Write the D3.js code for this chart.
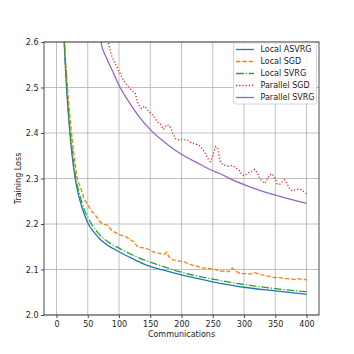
<!DOCTYPE html>
<html>
<head>
<meta charset="utf-8">
<script src="https://cdn.jsdelivr.net/npm/d3@7"></script>
<style>
html,body{margin:0;padding:0;background:#fff;}
svg{display:block;}
text{font-family:"DejaVu Sans",sans-serif;}
</style>
</head>
<body>
<svg id="chart" width="354" height="354"></svg>
<script>
// ---------- data ----------
const xTicks = [0, 50, 100, 150, 200, 250, 300, 350, 400];
const yTicks = [2.0, 2.1, 2.2, 2.3, 2.4, 2.5, 2.6];

const asvrgX = [11, 12.3, 14, 16, 18.5, 21.4, 25, 29.9, 35, 40, 51, 60, 70, 80, 100, 120, 140, 170, 200, 250, 300, 350, 400];
const asvrgY = [2.65, 2.60, 2.55, 2.50, 2.45, 2.40, 2.35, 2.30, 2.265, 2.24, 2.20, 2.182, 2.166, 2.155, 2.139, 2.125, 2.112, 2.099, 2.088, 2.073, 2.061, 2.053, 2.0455];

const sgdX = [11.5, 12.8, 15, 17.6, 20.5, 24, 28, 33, 39, 44, 50, 56, 62, 70, 76, 82, 88, 94, 100, 106, 112, 118, 124, 130, 136, 142, 148, 154, 160, 166, 172, 176, 180, 186, 192, 198, 204, 210, 216, 222, 228, 234, 240, 246, 252, 258, 264, 270, 276, 281, 286, 292, 298, 304, 310, 316, 322, 328, 334, 340, 346, 352, 358, 364, 370, 376, 382, 388, 394, 400];
const sgdY = [2.65, 2.60, 2.55, 2.50, 2.45, 2.40, 2.35, 2.30, 2.278, 2.255, 2.243, 2.228, 2.22, 2.204, 2.199, 2.197, 2.186, 2.181, 2.177, 2.174, 2.171, 2.165, 2.161, 2.149, 2.148, 2.147, 2.144, 2.139, 2.137, 2.135, 2.133, 2.138, 2.128, 2.121, 2.120, 2.118, 2.117, 2.113, 2.110, 2.108, 2.106, 2.103, 2.103, 2.102, 2.101, 2.098, 2.096, 2.097, 2.095, 2.103, 2.098, 2.092, 2.091, 2.091, 2.090, 2.093, 2.091, 2.088, 2.087, 2.085, 2.083, 2.082, 2.082, 2.080, 2.080, 2.079, 2.078, 2.080, 2.078, 2.078];

const svrgX = [11, 12.5, 14.5, 16.5, 19, 22, 26, 31, 37, 45, 56, 70, 80, 100, 120, 140, 170, 200, 250, 300, 350, 400];
const svrgY = [2.65, 2.60, 2.55, 2.50, 2.45, 2.40, 2.35, 2.30, 2.265, 2.23, 2.20, 2.175, 2.163, 2.147, 2.133, 2.121, 2.107, 2.094, 2.079, 2.067, 2.058, 2.051];

const psgdX = [78, 83, 87, 91, 95, 99, 103, 107, 112, 117, 122, 126, 131, 136, 141, 146, 151, 156, 161, 166, 171, 176, 181, 186, 190, 195, 200, 205, 210, 216, 222, 228, 233, 238, 242, 246, 249, 252, 255, 258, 262, 266, 270, 275, 280, 284, 288, 292, 296, 300, 304, 308, 312, 317, 321, 325, 329, 333, 337, 341, 345, 349, 353, 357, 361, 365, 369, 373, 377, 381, 385, 389, 393, 397, 400];
const psgdY = [2.625, 2.597, 2.575, 2.560, 2.550, 2.538, 2.527, 2.516, 2.507, 2.498, 2.492, 2.487, 2.462, 2.454, 2.459, 2.450, 2.443, 2.436, 2.425, 2.420, 2.408, 2.418, 2.416, 2.400, 2.388, 2.385, 2.386, 2.385, 2.384, 2.378, 2.376, 2.373, 2.366, 2.355, 2.344, 2.337, 2.345, 2.360, 2.370, 2.366, 2.338, 2.330, 2.329, 2.327, 2.328, 2.326, 2.322, 2.318, 2.310, 2.306, 2.310, 2.313, 2.316, 2.320, 2.313, 2.300, 2.295, 2.289, 2.298, 2.308, 2.310, 2.303, 2.288, 2.287, 2.293, 2.297, 2.288, 2.278, 2.273, 2.275, 2.276, 2.276, 2.275, 2.269, 2.267];

const psvrgX = [65, 71, 80, 90, 101.8, 115, 130, 149.7, 170, 190, 210, 221.6, 250, 261, 280, 301, 325, 349, 375, 400];
const psvrgY = [2.68, 2.60, 2.565, 2.535, 2.50, 2.47, 2.44, 2.408, 2.383, 2.362, 2.345, 2.337, 2.317, 2.311, 2.298, 2.286, 2.274, 2.264, 2.254, 2.2455];

const seriesNames = ["Local ASVRG", "Local SGD", "Local SVRG", "Parallel SGD", "Parallel SVRG"];

// ---------- styles ----------
const styles = [
  {color: "#1f77b4", dash: null, smooth: true},
  {color: "#ff7f0e", dash: "4.4,1.9", smooth: false},
  {color: "#2ca02c", dash: "7.7,1.9,1.2,1.9", smooth: true},
  {color: "#d62728", dash: "1.2,2", smooth: false},
  {color: "#9467bd", dash: null, smooth: true}
];
const seriesData = [
  d3.zip(asvrgX, asvrgY),
  d3.zip(sgdX, sgdY),
  d3.zip(svrgX, svrgY),
  d3.zip(psgdX, psgdY),
  d3.zip(psvrgX, psvrgY)
];

const L = 44, R = 319, T = 42, B = 315;
const svg = d3.select("#chart");
const x = d3.scaleLinear().domain([-20, 420]).range([L, R]);
const y = d3.scaleLinear().domain([2.0, 2.6]).range([B, T]);

svg.append("defs").append("clipPath").attr("id", "clip")
  .append("rect").attr("x", L).attr("y", T).attr("width", R - L).attr("height", B - T);

// grid
const grid = svg.append("g");
grid.selectAll(".vg").data(xTicks).join("line")
  .attr("x1", d => x(d)).attr("x2", d => x(d)).attr("y1", T).attr("y2", B)
  .attr("stroke", "#b0b0b0").attr("stroke-width", 0.8);
grid.selectAll(".hg").data(yTicks).join("line")
  .attr("y1", d => y(d)).attr("y2", d => y(d)).attr("x1", L).attr("x2", R)
  .attr("stroke", "#b0b0b0").attr("stroke-width", 0.8);

// lines
const lines = svg.append("g").attr("clip-path", "url(#clip)");
seriesData.forEach((data, i) => {
  const st = styles[i];
  const gen = d3.line().x(d => x(d[0])).y(d => y(d[1]))
    .curve(st.smooth ? d3.curveMonotoneX : d3.curveLinear);
  lines.append("path").datum(data).attr("d", gen)
    .attr("fill", "none").attr("stroke", st.color).attr("stroke-width", 1.3)
    .attr("stroke-dasharray", st.dash);
});

// axes
const xAxis = d3.axisBottom(x).tickValues(xTicks).tickFormat(d3.format("d")).tickSize(3).tickPadding(3);
const yAxis = d3.axisLeft(y).tickValues(yTicks).tickFormat(d3.format(".1f")).tickSize(3).tickPadding(2.5);
const gx = svg.append("g").attr("transform", `translate(0,${B})`).call(xAxis);
const gy = svg.append("g").attr("transform", `translate(${L},0)`).call(yAxis);
[gx, gy].forEach(g => {
  g.select(".domain").remove();
  g.selectAll(".tick line").attr("stroke", "#222").attr("stroke-width", 0.8);
  g.selectAll(".tick text").attr("font-size", 8).attr("fill", "#222").attr("font-family", "DejaVu Sans");
});

// spines
svg.append("rect").attr("x", L).attr("y", T).attr("width", R - L).attr("height", B - T)
  .attr("fill", "none").attr("stroke", "#222").attr("stroke-width", 0.8);

// axis labels
svg.append("text").attr("x", (L + R) / 2).attr("y", 337).attr("text-anchor", "middle")
  .attr("font-size", 8).attr("fill", "#222").text("Communications");
svg.append("text").attr("transform", `translate(21,${(T + B) / 2}) rotate(-90)`)
  .attr("text-anchor", "middle").attr("font-size", 8).attr("fill", "#222").text("Training Loss");

// legend
const lg = svg.append("g");
const lx = 233.5, ly = 43, lw = 83, lh = 61;
lg.append("rect").attr("x", lx).attr("y", ly).attr("width", lw).attr("height", lh)
  .attr("rx", 2).attr("fill", "#fff").attr("fill-opacity", 0.8)
  .attr("stroke", "#cccccc").attr("stroke-width", 0.8);
seriesNames.forEach((name, i) => {
  const cy = 49.5 + i * 12;
  lg.append("line").attr("x1", lx + 2.5).attr("x2", lx + 20.5).attr("y1", cy).attr("y2", cy)
    .attr("stroke", styles[i].color).attr("stroke-width", 1.3)
    .attr("stroke-dasharray", styles[i].dash);
  lg.append("text").attr("x", lx + 27).attr("y", cy).attr("dy", "0.35em")
    .attr("font-size", 8).attr("fill", "#222").text(name);
});
</script>
</body>
</html>
